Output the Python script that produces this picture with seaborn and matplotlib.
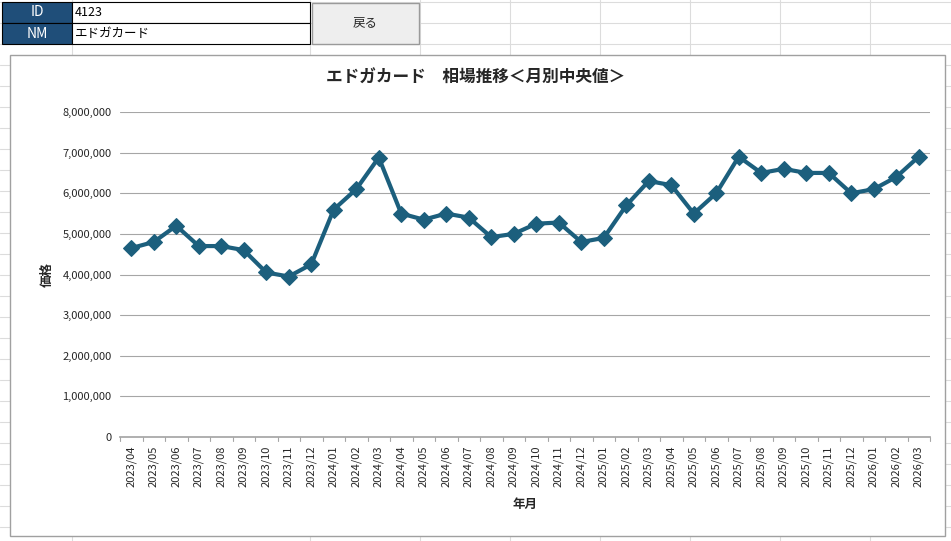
import matplotlib
matplotlib.use("Agg")
import matplotlib.pyplot as plt
import seaborn as sns
import pandas as pd
from matplotlib.patches import Rectangle

months = ["2023/04","2023/05","2023/06","2023/07","2023/08","2023/09","2023/10","2023/11","2023/12",
          "2024/01","2024/02","2024/03","2024/04","2024/05","2024/06","2024/07","2024/08","2024/09",
          "2024/10","2024/11","2024/12","2025/01","2025/02","2025/03","2025/04","2025/05","2025/06",
          "2025/07","2025/08","2025/09","2025/10","2025/11","2025/12","2026/01","2026/02","2026/03"]
prices = [4650000,4800000,5200000,4700000,4700000,4600000,4050000,3950000,4250000,
          5600000,6100000,6880000,5500000,5350000,5500000,5400000,4920000,5000000,
          5250000,5280000,4800000,4900000,5700000,6300000,6200000,5500000,6000000,
          6900000,6500000,6600000,6500000,6500000,6000000,6100000,6400000,6900000]
yticks = list(range(0, 8000001, 1000000))
title = "エドガカード　相場推移＜月別中央値＞"

sns.set_theme(style="white")
plt.rcParams['font.family'] = ['Noto Sans CJK JP', 'DejaVu Sans']

W, H = 951, 541
fig = plt.figure(figsize=(W/100, H/100), dpi=100)
fig.patch.set_facecolor("white")

def fx(x): return x / W
def fy(y): return 1 - y / H

# spreadsheet gridlines
for y in range(0, H, 21):
    fig.add_artist(plt.Line2D([0, 1], [fy(y+2), fy(y+2)], color="#dcdcdc", lw=0.8, zorder=0.5))
for x in [72, 310, 420, 510, 600, 690, 780, 870]:
    fig.add_artist(plt.Line2D([fx(x), fx(x)], [0, 1], color="#dcdcdc", lw=0.8, zorder=0.5))

# header cells
for i, (lab, val) in enumerate([("ID", "4123"), ("NM", "エドガカード")]):
    y0 = 2 + i * 21
    fig.add_artist(Rectangle((fx(2), fy(y0+21)), fx(70), 21/H, facecolor="#1f4e79", edgecolor="black", lw=0.8, zorder=1))
    fig.text(fx(37), fy(y0+10.5), lab, color="white", ha="center", va="center", fontsize=10, zorder=5)
    fig.add_artist(Rectangle((fx(72), fy(y0+21)), fx(238), 21/H, facecolor="white", edgecolor="black", lw=0.8, zorder=1))
    fig.text(fx(75), fy(y0+10.5), val, color="black", ha="left", va="center", fontsize=9, zorder=5)
# button
fig.add_artist(Rectangle((fx(312), fy(44)), fx(107), 41/H, facecolor="#eeeeee", edgecolor="#9a9a9a", lw=1, zorder=1))
fig.text(fx(365), fy(23), "戻る", ha="center", va="center", fontsize=9, zorder=5)

# chart area
fig.add_artist(Rectangle((fx(10), fy(536)), fx(935), 481/H, facecolor="white", edgecolor="#a0a0a0", lw=1, zorder=2))
fig.text(fx(476), fy(78), title, ha="center", va="center", fontsize=12, fontweight="bold", zorder=5)

ax = fig.add_axes([fx(120), fy(437), fx(810), 325/H])
ax.set_zorder(4)
ax.patch.set_alpha(0)
df = pd.DataFrame({"x": range(len(months)), "price": prices})
sns.lineplot(data=df, x="x", y="price", ax=ax, color="#1c5f7d", lw=3, marker="D",
             markersize=8, markeredgecolor="#1c5f7d")
ax.set_xlim(-0.5, len(months) - 0.5)
ax.set_ylim(0, 8000000)
ax.set_yticks(yticks)
ax.set_yticklabels([f"{v:,}" for v in yticks], fontsize=8)
ax.set_xticks(range(len(months)))
ax.set_xticklabels(months, rotation=90, fontsize=8)
ax.yaxis.grid(True, color="#a6a6a6", lw=0.8)
ax.set_axisbelow(True)
for s in ["top", "right", "left"]:
    ax.spines[s].set_visible(False)
ax.spines["bottom"].set_color("#a6a6a6")
ax.tick_params(axis="x", length=0, pad=6)
ax.tick_params(axis="y", length=0, pad=6)
for i in range(len(months) + 1):
    ax.plot([i - 0.5, i - 0.5], [0, -0.012 * 8000000], color="#a6a6a6", lw=0.8, clip_on=False)
ax.set_xlabel("年月", fontsize=9, fontweight="bold", labelpad=8)
ax.set_ylabel("価格", fontsize=9, fontweight="bold", labelpad=6)

fig.savefig("out.png", dpi=100)
